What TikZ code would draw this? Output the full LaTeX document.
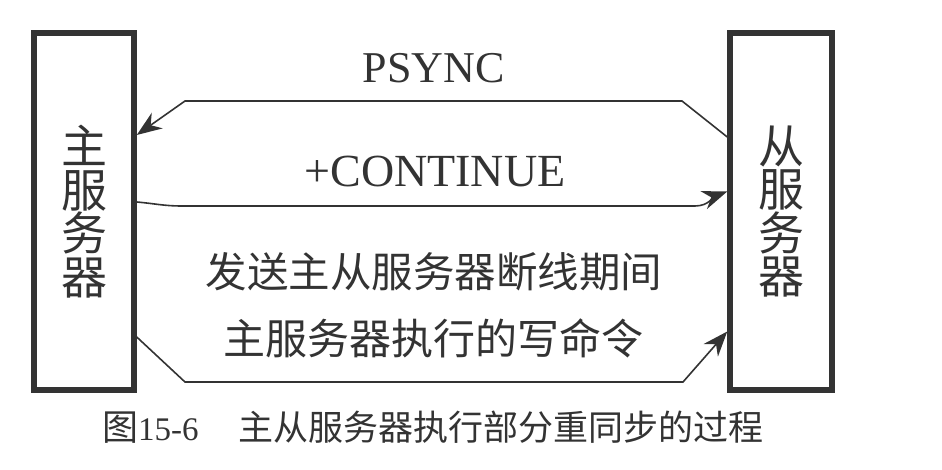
\documentclass[tikz,border=0pt]{standalone}
\usepackage{fontspec}
\setmainfont{Liberation Serif}
\newfontfamily\cjk{Noto Sans CJK SC}
\usetikzlibrary{arrows.meta}
\definecolor{ink}{HTML}{333333}
\begin{document}
\begin{tikzpicture}[x=1pt,y=-1pt,
    server/.style={draw=ink,line width=5.5pt,inner sep=0pt,minimum width=#1,minimum height=357pt,
      align=center,text=ink,font=\cjk\fontsize{46}{43.5}\selectfont},
    msg/.style={draw=ink,line width=1.6pt,-{Stealth[length=25pt,width=19pt,inset=8pt]}},
    txt/.style={text=ink,inner sep=0pt}]
    \useasboundingbox (0,0) rectangle (942,470);
    \node[server=100pt] (master) at (84,211.5) {主\\服\\务\\器};
    \node[server=102pt] (slave) at (781,211.5) {从\\服\\务\\器};
    \draw[msg] ([yshift=74.5pt]slave.west) -- (682,101) -- (185,101) -- ([yshift=76.5pt]master.east);
    \draw[msg] ([yshift=9.5pt]master.east) to[out=-5,in=180] (182,206) -- (695,206)
      to[out=0,in=200] ([yshift=20pt]slave.west);
    \draw[msg] ([yshift=-125.5pt]master.east) -- (185,382) -- (683,382) -- ([yshift=-120pt]slave.west);
    \node[txt,anchor=base,font=\fontsize{44}{44}\selectfont] (psync) at (433.5,83) {PSYNC};
    \node[txt,anchor=base,font=\fontsize{46}{46}\selectfont] (cont) at (435,187) {+CONTINUE};
    \node[txt,font=\cjk\fontsize{41.5}{41.5}\selectfont] (cmd1) at (434,272) {发送主从服务器断线期间};
    \node[txt,font=\cjk\fontsize{42}{42}\selectfont] (cmd2) at (433.5,338) {主服务器执行的写命令};
    \node[txt,anchor=west] (caption) at (102,427)
      {{\cjk\fontsize{36}{36}\selectfont 图}{\fontsize{33}{33}\selectfont 15-6}\hspace{40pt}{\cjk\fontsize{35}{35}\selectfont 主从服务器执行部分重同步的过程}};
\end{tikzpicture}
\end{document}
